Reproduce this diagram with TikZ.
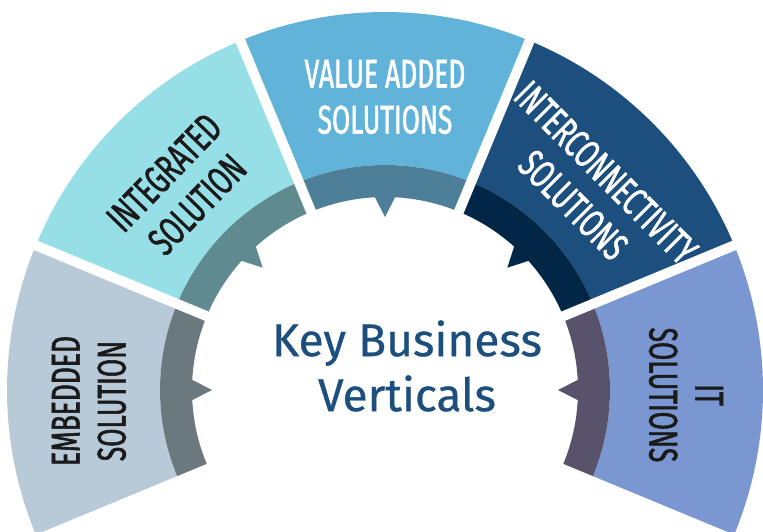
\documentclass[tikz,border=0pt]{standalone}
\usepackage{fontspec}
\setmainfont{Fira Sans}
\newfontfamily\condfont[FakeStretch=0.66, FakeBold=1.4]{Fira Sans}
\newfontfamily\keyfont[FakeBold=0.6]{Fira Sans}
\definecolor{embL}{HTML}{B8CAD7}
\definecolor{embD}{HTML}{6B797E}
\definecolor{intL}{HTML}{96DFE7}
\definecolor{intD}{HTML}{5F8A8F}
\definecolor{valL}{HTML}{62B3DA}
\definecolor{valD}{HTML}{4D7F98}
\definecolor{conL}{HTML}{1C4F7E}
\definecolor{conD}{HTML}{022646}
\definecolor{itL}{HTML}{7B97D1}
\definecolor{itD}{HTML}{58536B}
\definecolor{keyblue}{HTML}{1D4F7E}
\definecolor{labdark}{HTML}{1A1A1A}
\tikzset{
  lab/.style={font=\condfont\fontsize{40}{46}\selectfont, align=center, inner sep=0pt},
  centertext/.style={font=\keyfont\fontsize{46}{55}\selectfont, align=center, inner sep=0pt, text=keyblue},
  gap/.style={white, line width=10pt}
}
\begin{document}
\begin{tikzpicture}[x=1pt,y=1pt]
\useasboundingbox (0,0) rectangle (763,531);
\clip (0,0) rectangle (763,531);
\coordinate (O) at (385,141);
\foreach \a/\lc/\dc in {180/embL/embD, 135/intL/intD, 90/valL/valD, 45/conL/conD, 0/itL/itD} {
  \pgfmathsetmacro{\s}{\a-22.5}
  \pgfmathsetmacro{\e}{\a+22.5}
  \pgfmathsetmacro{\nl}{\a-3}
  \pgfmathsetmacro{\nr}{\a+3}
  \fill[\lc] ([shift={(O)}]\s:225) arc[start angle=\s, end angle=\e, radius=225]
     -- ([shift={(O)}]\e:378) arc[start angle=\e, end angle=\s, radius=378] -- cycle;
  \fill[\dc] ([shift={(O)}]\s:225) arc[start angle=\s, end angle=\e, radius=225]
     -- ([shift={(O)}]\e:193) arc[start angle=\e, end angle=\nr, radius=193]
     -- ([shift={(O)}]\a:173) -- ([shift={(O)}]\nl:193)
     arc[start angle=\nl, end angle=\s, radius=193] -- cycle;
}
\foreach \g in {22.5,67.5,112.5,157.5} {
  \draw[gap] ([shift={(O)}]\g:150) -- ([shift={(O)}]\g:400);
}
\node[lab, text=labdark, rotate=90] (emb) at (89,130) {EMBEDDED\\SOLUTION};
\node[lab, text=labdark, rotate=46] (int) at ([shift={(O)}]135.4:287) {INTEGRATED\\SOLUTION};
\node[lab, text=white] (val) at ([shift={(O)}]90:293) {VALUE ADDED\\SOLUTIONS};
\node[lab, text=white, rotate=-45] (con) at ([shift={(O)}]44.5:287) {INTERCONNECTIVITY\\SOLUTIONS};
\node[lab, text=labdark, rotate=-90] (it) at (686,136) {IT\\SOLUTIONS};
\node[centertext] (key) at (407,165) {Key Business\\Verticals};
\end{tikzpicture}
\end{document}
